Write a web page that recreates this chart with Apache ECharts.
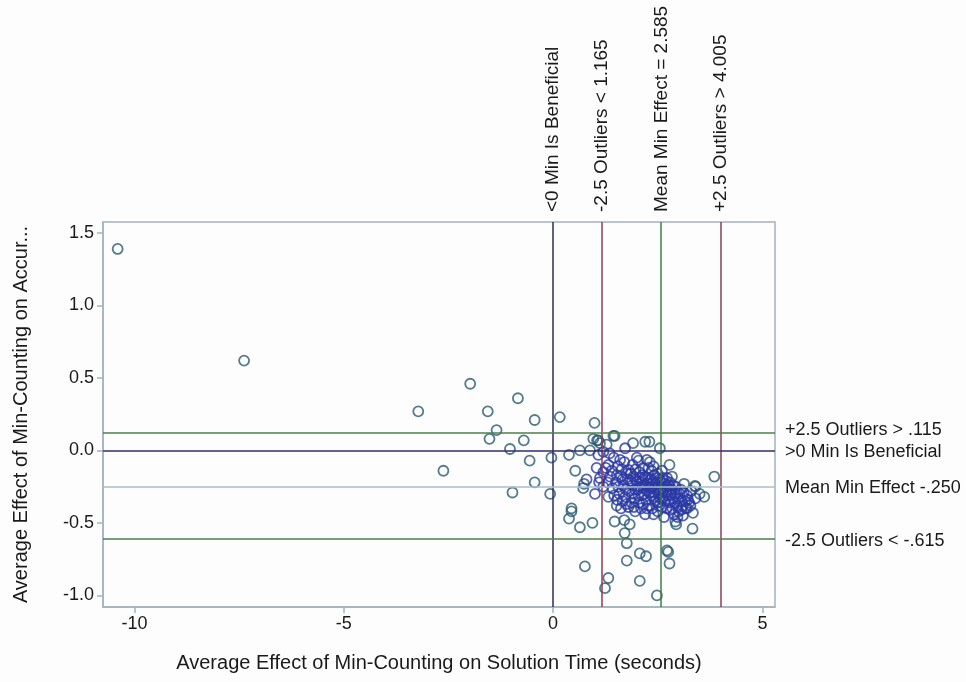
<!DOCTYPE html>
<html>
<head>
<meta charset="utf-8">
<script src="https://cdn.jsdelivr.net/npm/echarts@6/dist/echarts.min.js"></script>
<style>html,body{margin:0;padding:0;background:#fdfdfe;}#c{width:966px;height:682px;}</style>
</head>
<body>
<div id="c"></div>
<script>
// Scattered (isolated) schools
var spreadPoints = [
  [-10.4,1.39],[-7.38,0.62],[-3.22,0.27],[-1.98,0.46],[-1.56,0.27],[-0.84,0.36],
  [-0.44,0.21],[0.16,0.23],[0.99,0.19],[-1.35,0.14],[-1.52,0.08],[-0.70,0.07],
  [-1.03,0.01],[-0.56,-0.07],[-0.04,-0.05],[0.38,-0.03],[0.64,0.0],[0.96,0.08],
  [-2.62,-0.14],[-0.44,-0.22],[-0.97,-0.29],[-0.07,-0.30],[0.53,-0.14],[0.74,-0.23],
  [0.72,-0.26],[0.44,-0.40],[1.47,0.10],[1.08,0.07],
  [0.44,-0.42],[0.38,-0.47],[0.64,-0.53],[0.94,-0.50],[1.47,-0.49],[1.70,-0.48],
  [1.83,-0.51],[1.71,-0.57],[1.76,-0.64],[0.76,-0.80],[1.76,-0.76],[2.07,-0.71],
  [2.22,-0.73],[2.72,-0.69],[2.75,-0.70],[2.78,-0.78],[1.32,-0.88],[1.24,-0.95],
  [2.07,-0.90],[2.48,-1.00],[2.40,-0.44],[2.92,-0.49],[2.94,-0.51],[3.33,-0.54],
  [3.34,-0.43],[3.61,-0.32],[3.40,-0.25],[1.96,-0.42],[1.52,-0.38],[1.32,-0.32],
  [3.85,-0.18],[2.78,-0.10],[1.91,0.05],[2.30,0.06],[2.55,0.015],[1.44,0.10],
  [3.13,-0.23],[3.39,-0.245],[2.04,-0.07],[2.31,-0.08],[2.84,-0.18],
  [1.05,0.07],[1.12,0.05],[1.28,0.04],[0.88,0.0],[2.2,0.06],[3.5,-0.30],[3.2,-0.40]
];
// Dense core of the cloud
var corePoints = [
  [1.08,-0.03],[1.2,-0.01],[1.35,-0.02],[1.72,0.015],[1.6,-0.065],[2.0,-0.05],
  [2.24,-0.065],[1.32,-0.10],[1.04,-0.12],[1.8,-0.135],[1.52,-0.17],[1.12,-0.19],
  [0.8,-0.2],[2.08,-0.19],[1.45,-0.05],[1.55,-0.11],[1.7,-0.08],[1.9,-0.1],
  [2.15,-0.12],[2.4,-0.11],[2.6,-0.14],
  [1.2,-0.15],[1.3,-0.22],[1.4,-0.14],[1.42,-0.26],[1.5,-0.22],[1.58,-0.3],
  [1.62,-0.18],[1.68,-0.24],[1.72,-0.32],[1.78,-0.2],[1.82,-0.28],[1.86,-0.16],
  [1.9,-0.24],[1.95,-0.33],[1.98,-0.2],[2.02,-0.27],[2.06,-0.15],[2.1,-0.22],
  [2.12,-0.31],[2.16,-0.26],[2.2,-0.18],[2.22,-0.34],[2.26,-0.23],[2.3,-0.29],
  [2.34,-0.2],[2.36,-0.25],[2.4,-0.32],[2.42,-0.17],[2.45,-0.27],[2.48,-0.22],
  [2.5,-0.36],[2.52,-0.3],[2.55,-0.2],[2.58,-0.26],[2.62,-0.33],[2.65,-0.23],
  [2.68,-0.29],[2.72,-0.19],[2.75,-0.35],[2.78,-0.27],[2.82,-0.31],[2.86,-0.24],
  [2.9,-0.36],[2.95,-0.29],[3.0,-0.33],[3.05,-0.27],[3.1,-0.38],[3.2,-0.31],
  [3.25,-0.36],[3.3,-0.28],[3.4,-0.33],[2.0,-0.22],[2.25,-0.28],[2.35,-0.31],
  [2.45,-0.23],[2.15,-0.2],[2.55,-0.28],[2.7,-0.25],[1.88,-0.3],[2.05,-0.36],
  [2.28,-0.38],[2.6,-0.39],[2.85,-0.4],[3.0,-0.42],[3.15,-0.35],[2.92,-0.3],
  [1.62,-0.4],[1.75,-0.37],[2.1,-0.4],[2.2,-0.44],[2.5,-0.42],[2.65,-0.46],
  [2.8,-0.41],[3.1,-0.45],[1.2,-0.25],[1.1,-0.22],[1.0,-0.3],
  [1.56,-0.25],[1.64,-0.13],[1.74,-0.27],[1.84,-0.21],[1.92,-0.18],[1.96,-0.27],
  [2.04,-0.31],[2.08,-0.25],[2.13,-0.17],[2.18,-0.3],[2.21,-0.24],[2.27,-0.19],
  [2.32,-0.26],[2.38,-0.22],[2.41,-0.29],[2.44,-0.35],[2.47,-0.19],[2.51,-0.25],
  [2.56,-0.33],[2.59,-0.22],[2.63,-0.28],[2.66,-0.35],[2.69,-0.21],[2.73,-0.31],
  [2.76,-0.24],[2.8,-0.36],[2.83,-0.27],[2.88,-0.33],[2.93,-0.25],[2.97,-0.38],
  [3.02,-0.3],[3.07,-0.35],[3.12,-0.29],[3.17,-0.4],[3.22,-0.34],[3.28,-0.38],
  [1.46,-0.31],[1.53,-0.34],[1.66,-0.35],[1.8,-0.39],[1.87,-0.36],[1.93,-0.39],
  [2.14,-0.37],[2.24,-0.4],[2.37,-0.4],[2.54,-0.38],[2.71,-0.4],[2.89,-0.44],
  [2.97,-0.46],[3.06,-0.41],[2.35,-0.14],[2.5,-0.16],[2.28,-0.12],[1.97,-0.13],
  [1.76,-0.16],[1.66,-0.2],[1.36,-0.18],[1.26,-0.12],[2.62,-0.19],[2.79,-0.22]
];
var xTicks = [-10, -5, 0, 5];
var yTicks = [-1.0, -0.5, 0.0, 0.5, 1.0, 1.5];
var refX = [0, 1.165, 2.585, 4.005];
var refXLabels = ['<0 Min Is Beneficial', '-2.5 Outliers < 1.165', 'Mean Min Effect = 2.585', '+2.5 Outliers > 4.005'];
var refY = [0.115, 0, -0.25, -0.615];
var refYLabels = ['+2.5 Outliers > .115', '>0 Min Is Beneficial', 'Mean Min Effect -.250', '-2.5 Outliers < -.615'];

var refXColors = ['#2d2a5c', '#8a3d56', '#3c7b49', '#8a3d56'];
var refYColors = ['#4d7f4b', '#2f2d6c', '#a9bfcc', '#4d7f4b'];
var labelYOffset = [-4, 2, 1, 1];

var FONT = 'Liberation Sans, Arial, sans-serif';
var chart = echarts.init(document.getElementById('c'), null, {renderer: 'canvas'});

var markData = [];
refX.forEach(function (v, i) { markData.push({xAxis: v, lineStyle: {color: refXColors[i]}}); });
refY.forEach(function (v, i) { markData.push({yAxis: v, lineStyle: {color: refYColors[i]}}); });

var option = {
  backgroundColor: '#fdfdfe',
  animation: false,
  grid: {left: 103, right: 191, top: 222, bottom: 75, show: true, borderColor: '#a3b3bf', borderWidth: 1.5, backgroundColor: 'transparent'},
  xAxis: {
    type: 'value', min: -10.75, max: 5.3,
    name: 'Average Effect of Min-Counting on Solution Time (seconds)',
    nameLocation: 'middle', nameGap: 46,
    nameTextStyle: {fontFamily: FONT, fontSize: 20, color: '#1a1a1a'},
    splitLine: {show: false},
    axisLine: {show: true, onZero: false, lineStyle: {color: '#a3b3bf', width: 1.5}},
    axisTick: {show: true, length: 6, customValues: xTicks, lineStyle: {color: '#a3b3bf', width: 1.5}},
    axisLabel: {customValues: xTicks, fontFamily: FONT, fontSize: 18, color: '#1a1a1a', margin: 8}
  },
  yAxis: {
    type: 'value', min: -1.08, max: 1.576,
    name: 'Average Effect of Min-Counting on Accur...',
    nameLocation: 'middle', nameGap: 72, nameRotate: 90,
    nameTextStyle: {fontFamily: FONT, fontSize: 20, color: '#1a1a1a'},
    splitLine: {show: false},
    axisLine: {show: true, onZero: false, lineStyle: {color: '#a3b3bf', width: 1.5}},
    axisTick: {show: true, length: 6, customValues: yTicks, lineStyle: {color: '#a3b3bf', width: 1.5}},
    axisLabel: {customValues: yTicks, fontFamily: FONT, fontSize: 18, color: '#1a1a1a', margin: 9,
      formatter: function (v) { return v.toFixed(1); }}
  },
  series: [
    {
      type: 'scatter', data: [], silent: true,
      markLine: {silent: true, symbol: ['none', 'none'], label: {show: false},
        lineStyle: {type: 'solid', width: 1.5}, data: markData}
    },
    {
      type: 'scatter', data: spreadPoints, symbol: 'circle', symbolSize: 10,
      itemStyle: {color: 'rgba(0,0,0,0)', borderColor: '#2b5a72', borderWidth: 1.8}
    },
    {
      type: 'scatter', data: corePoints, symbol: 'circle', symbolSize: 10,
      itemStyle: {color: 'rgba(0,0,0,0)', borderColor: '#2a38a4', borderWidth: 1.8}
    }
  ]
};
chart.setOption(option);

var gridTop = 222, gridRight = 966 - 191;
var g = [];
refX.forEach(function (v, i) {
  var px = chart.convertToPixel({xAxisIndex: 0}, v);
  g.push({type: 'text', x: px, y: gridTop - 10, rotation: Math.PI / 2,
    style: {text: refXLabels[i], font: '19px ' + FONT, fill: '#1a1a1a', align: 'left', verticalAlign: 'middle'}});
});
refY.forEach(function (v, i) {
  var py = chart.convertToPixel({yAxisIndex: 0}, v);
  g.push({type: 'text', x: gridRight + 10, y: py + labelYOffset[i],
    style: {text: refYLabels[i], font: '18px ' + FONT, fill: '#1a1a1a', align: 'left', verticalAlign: 'middle'}});
});
chart.setOption({graphic: g});
</script>
</body>
</html>
